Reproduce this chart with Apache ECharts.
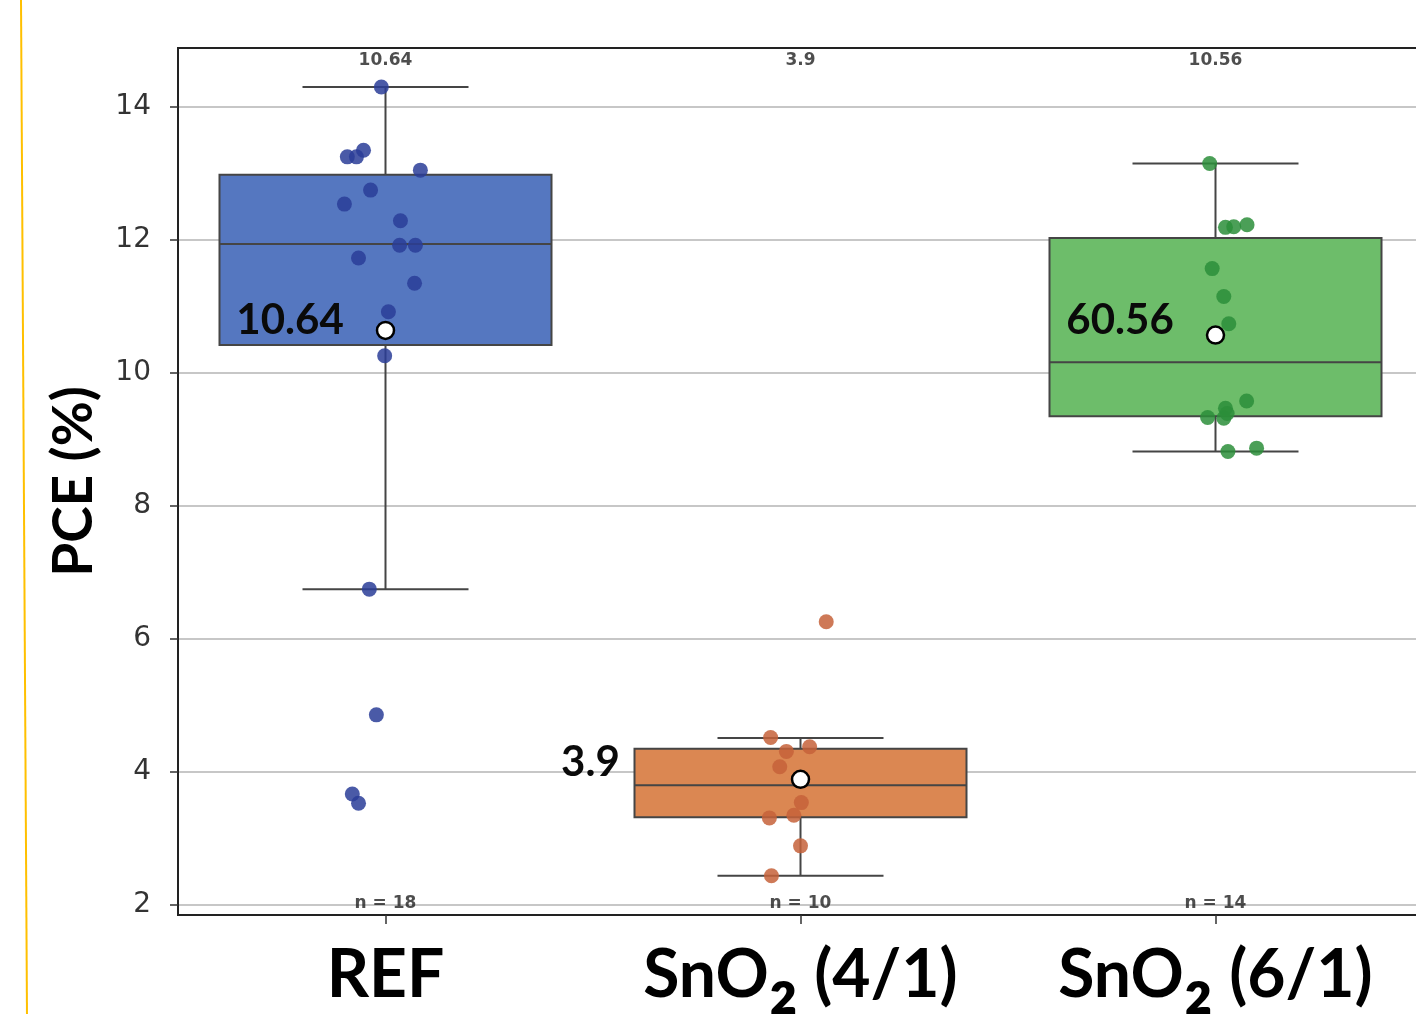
<!DOCTYPE html>
<html>
<head>
<meta charset="utf-8">
<script src="https://cdn.jsdelivr.net/npm/echarts@6/dist/echarts.min.js"></script>
<style>html,body{margin:0;padding:0;background:#fff;overflow:hidden;width:1416px;height:1014px;}#main{width:1423px;height:1014px;}</style>
</head>
<body>
<div id="main"></div>
<script>
// ---------------- data ----------------
const categories = ['REF', 'SnO2 (4/1)', 'SnO2 (6/1)'];
// [whisker low, Q1, median, Q3, whisker high]
const boxREF = [6.75, 10.42, 11.94, 12.98, 14.30];
const boxSnO2_41 = [2.44, 3.32, 3.80, 4.35, 4.51];
const boxSnO2_61 = [8.82, 9.35, 10.16, 12.03, 13.15];
const meanValues = [10.64, 3.89, 10.57];
const meanLabels = ['10.64', '3.9', '60.56'];
const topLabels = ['10.64', '3.9', '10.56'];
const countLabels = ['n = 18', 'n = 10', 'n = 14'];
const pointsREF = [14.30, 13.25, 13.25, 13.35, 13.05, 12.54, 12.75, 12.29, 11.92, 11.92, 11.73, 11.35, 10.92, 10.26, 6.75, 4.86, 3.67, 3.53];
const jitterREF = [-0.010, -0.092, -0.070, -0.053, 0.084, -0.099, -0.036, 0.036, 0.034, 0.072, -0.065, 0.070, 0.007, -0.002, -0.039, -0.022, -0.080, -0.065];
const pointsSnO2_41 = [6.26, 4.52, 4.31, 4.38, 4.08, 3.54, 3.31, 3.35, 2.89, 2.44];
const jitterSnO2_41 = [0.062, -0.072, -0.034, 0.022, -0.050, 0.002, -0.075, -0.016, 0.000, -0.070];
const pointsSnO2_61 = [13.15, 12.19, 12.20, 12.23, 11.57, 11.15, 10.74, 9.58, 9.47, 9.39, 9.33, 9.32, 8.82, 8.87];
const jitterSnO2_61 = [-0.014, 0.024, 0.044, 0.076, -0.008, 0.020, 0.032, 0.075, 0.024, 0.028, -0.019, 0.020, 0.030, 0.099];
const yTicks = [2, 4, 6, 8, 10, 12, 14];
const yMin = 1.85, yMax = 14.887;

// ---------------- styles ----------------
const boxColors = ['#5577C0', '#DB8752', '#6DBD6A'];
const dotColors = ['#2A3D98', '#C6623A', '#2C8E3A'];
const meanLabelShift = [[0, -10], [-139, -17], [0, -15]];
const HUM = 'Lato, "Liberation Sans", sans-serif';

const boxes = [boxREF, boxSnO2_41, boxSnO2_61];
const pts = [pointsREF, pointsSnO2_41, pointsSnO2_61];
const jit = [jitterREF, jitterSnO2_41, jitterSnO2_61];

const boxData = boxes.map((b, i) => [i].concat(b));
const pointSeries = pts.map((arr, i) => ({
  type: 'scatter', xAxisIndex: 1, yAxisIndex: 0, z: 3,
  symbolSize: 15,
  itemStyle: { color: dotColors[i], opacity: 0.85 },
  data: arr.map((v, j) => [i + jit[i][j], v]),
  silent: true
}));

const chart = echarts.init(document.getElementById('main'), null, { renderer: 'canvas' });
const option = {
  animation: false,
  backgroundColor: '#fff',
  grid: { left: 178, top: 48, bottom: 99, right: 0, outerBoundsMode: 'none', show: true, borderColor: '#222', borderWidth: 2, backgroundColor: 'transparent', containLabel: false },
  graphic: [{
    type: 'line', shape: { x1: 21, y1: 0, x2: 27, y2: 1014 },
    style: { stroke: '#FFC000', lineWidth: 2 }, z: 100
  }],
  xAxis: [{
    type: 'category', data: categories, gridIndex: 0,
    axisLine: { show: true, onZero: false, lineStyle: { color: '#222', width: 2 } },
    axisTick: { show: true, alignWithLabel: true, length: 9, lineStyle: { color: '#333', width: 1.5 } },
    splitLine: { show: false },
    axisLabel: {
      interval: 0, hideOverlap: false,
      margin: 21, color: '#000',
      fontFamily: HUM, fontWeight: 'bold', fontSize: 66,
      formatter: v => v.replace(/^(.*O)2(.*)$/, '{m|$1}{s|\u2082}{m|$2}').replace(/^REF$/, '{m|REF}'),
      rich: {
        m: { fontFamily: HUM, fontWeight: 'bold', fontSize: 66, lineHeight: 80, color: '#000' },
        s: { fontFamily: HUM, fontWeight: 'bold', fontSize: 88, lineHeight: 80, color: '#000' }
      }
    }
  }, {
    type: 'value', gridIndex: 0, min: -0.5, max: 2.5, show: false,
    axisLine: { onZero: false }
  }],
  yAxis: [{
    type: 'value', min: yMin, max: yMax,
    name: 'PCE (%)', nameLocation: 'middle', nameGap: 76, nameRotate: 90,
    nameTextStyle: { fontFamily: HUM, fontWeight: 'bold', fontSize: 55, color: '#000' },
    axisLine: { show: true, onZero: false, lineStyle: { color: '#222', width: 2 } },
    axisTick: { show: true, length: 8, customValues: yTicks, lineStyle: { color: '#333', width: 1.5 } },
    axisLabel: { customValues: yTicks, margin: 27, fontFamily: '"DejaVu Sans", sans-serif', fontSize: 28, color: '#333' },
    splitLine: { show: true, lineStyle: { color: '#b4b4b4', width: 1.5 } }
  }],
  series: [{
    type: 'custom', xAxisIndex: 0, yAxisIndex: 0, z: 2, silent: true,
    data: boxData,
    encode: { x: 0, y: [1, 2, 3, 4, 5] },
    renderItem: function (params, api) {
      const idx = api.value(0);
      const band = api.size([1, 0])[0];
      const bw = band * 0.8, cw = band * 0.4;
      const pLow = api.coord([idx, api.value(1)]);
      const pQ1 = api.coord([idx, api.value(2)]);
      const pMed = api.coord([idx, api.value(3)]);
      const pQ3 = api.coord([idx, api.value(4)]);
      const pHigh = api.coord([idx, api.value(5)]);
      const x = pMed[0];
      const ls = { stroke: '#454545', lineWidth: 2 };
      return {
        type: 'group',
        children: [
          { type: 'line', shape: { x1: x, y1: pHigh[1], x2: x, y2: pQ3[1] }, style: ls },
          { type: 'line', shape: { x1: x, y1: pQ1[1], x2: x, y2: pLow[1] }, style: ls },
          { type: 'line', shape: { x1: x - cw / 2, y1: pHigh[1], x2: x + cw / 2, y2: pHigh[1] }, style: ls },
          { type: 'line', shape: { x1: x - cw / 2, y1: pLow[1], x2: x + cw / 2, y2: pLow[1] }, style: ls },
          { type: 'rect', shape: { x: x - bw / 2, y: pQ3[1], width: bw, height: pQ1[1] - pQ3[1] },
            style: { fill: boxColors[idx], stroke: '#454545', lineWidth: 2 } },
          { type: 'line', shape: { x1: x - bw / 2, y1: pMed[1], x2: x + bw / 2, y2: pMed[1] }, style: ls }
        ]
      };
    }
  }].concat(pointSeries).concat([{
    type: 'scatter', xAxisIndex: 0, yAxisIndex: 0, z: 5, silent: true,
    symbol: 'circle', symbolSize: 17,
    itemStyle: { color: '#ffffff', borderColor: '#000', borderWidth: 2.5, opacity: 1 },
    data: meanValues.map((v, i) => ({
      value: [i, v],
      label: { show: true, position: 'left', distance: 32, offset: meanLabelShift[i], formatter: meanLabels[i],
        fontFamily: HUM, fontWeight: 'bold', fontSize: 42, color: '#0a0a0a' }
    }))
  }, {
    type: 'scatter', xAxisIndex: 0, yAxisIndex: 0, z: 6, silent: true,
    symbolSize: 0,
    data: topLabels.map((t, i) => ({
      value: [i, yMax],
      label: { show: true, position: 'bottom', distance: 4, formatter: t,
        fontFamily: '"DejaVu Sans", sans-serif', fontWeight: 'bold', fontSize: 17, color: '#222' }
    }))
  }, {
    type: 'scatter', xAxisIndex: 0, yAxisIndex: 0, z: 6, silent: true,
    symbolSize: 0,
    data: countLabels.map((t, i) => ({
      value: [i, yTicks[0]],
      label: { show: true, position: 'inside', offset: [0, -1], formatter: t,
        fontFamily: '"DejaVu Sans", sans-serif', fontWeight: 'bold', fontSize: 17, color: '#222' }
    }))
  }])
};
chart.setOption(option);
</script>
</body>
</html>
